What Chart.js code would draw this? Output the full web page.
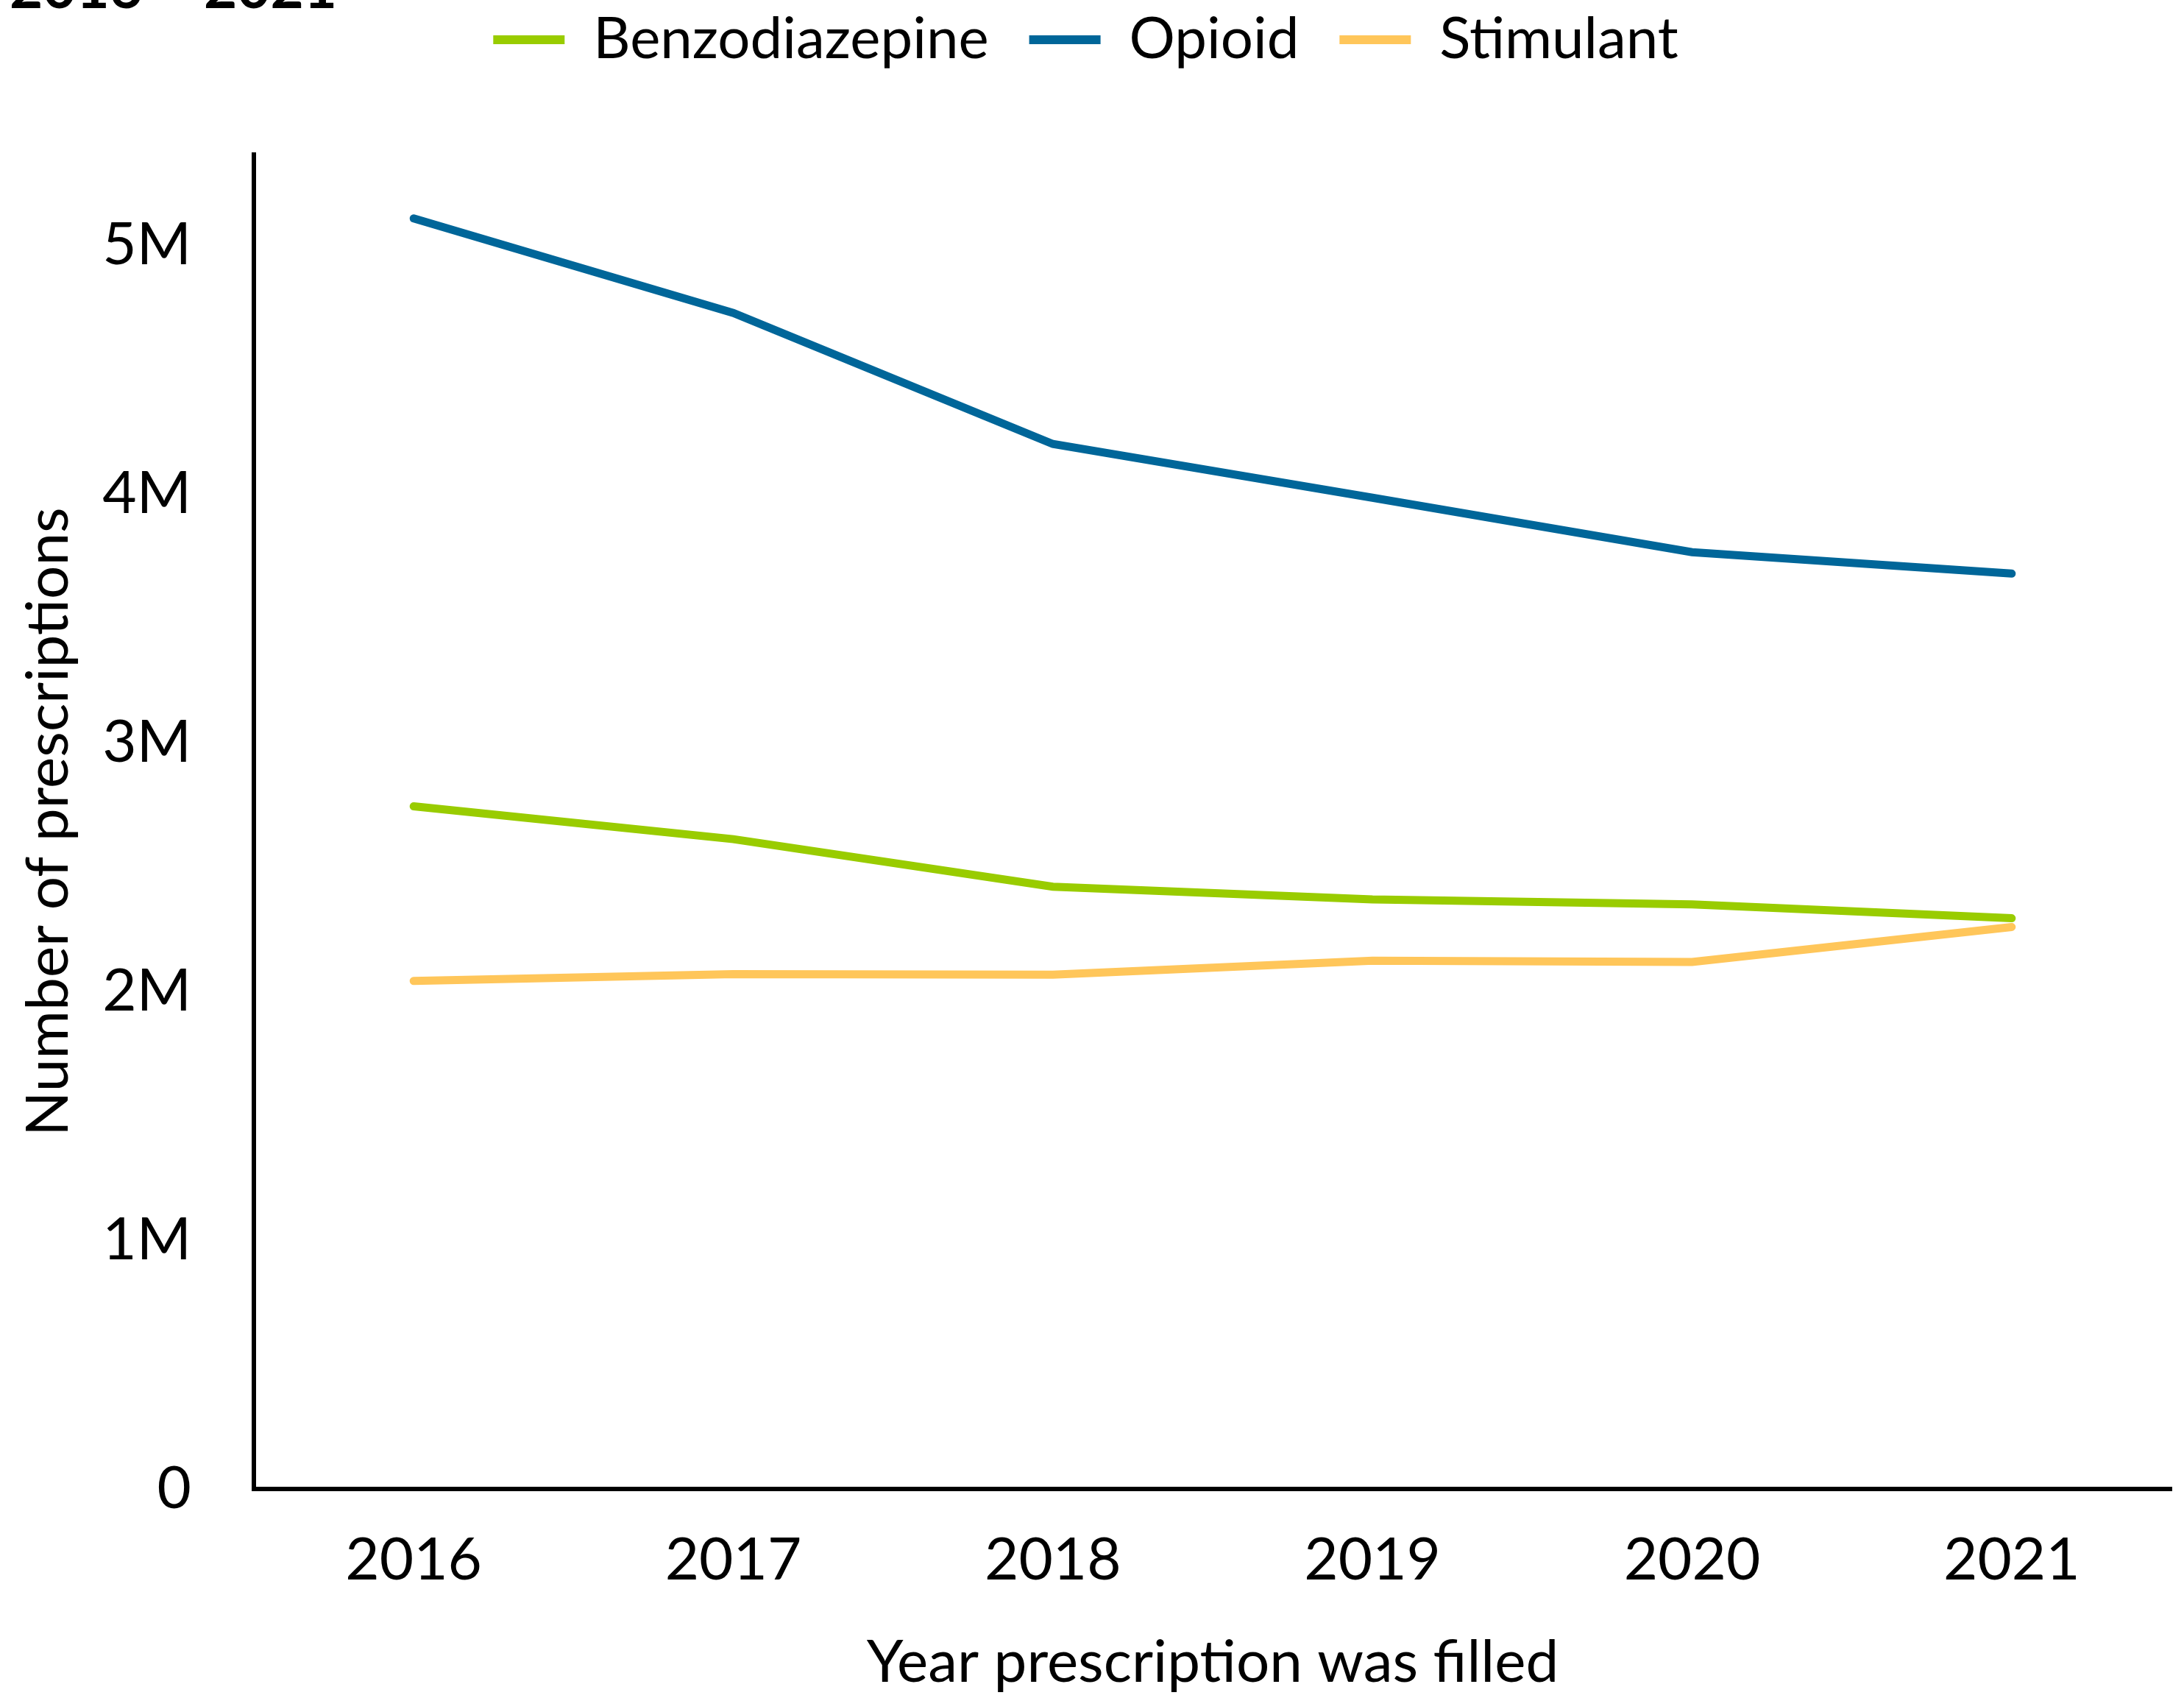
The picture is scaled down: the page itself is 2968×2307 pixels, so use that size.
<!DOCTYPE html>
<html>
<head>
<meta charset="utf-8">
<script src="https://cdn.jsdelivr.net/npm/chart.js@4/dist/chart.umd.min.js"></script>
<style>
    html, body { margin: 0; padding: 0; background: #fff; overflow: hidden; }
    #wrap { position: relative; width: 2968px; height: 2307px; }
    #chart { position: absolute; left: 0; top: 0; }
    #title { position: absolute; left: 13px; top: -58px; z-index: 2; font: bold 78px Lato; line-height: 78px; color: #000; white-space: nowrap; }
</style>
</head>
<body>
<div id="wrap">
    <div id="title">2016 – 2021</div>
    <canvas id="chart" width="2968" height="2307"></canvas>
</div>
<script>
// values (prescriptions)
const years = ['2016', '2017', '2018', '2019', '2020', '2021'];
const benzodiazepine = [2745000, 2613000, 2422000, 2371000, 2351000, 2295000];
const opioid = [5109000, 4729000, 4202000, 3986000, 3767000, 3681000];
const stimulant = [2043000, 2070000, 2068000, 2124000, 2119000, 2260000];
const yTicks = [0, 1000000, 2000000, 3000000, 4000000, 5000000];
const yMax = 5366000;

Chart.defaults.font.family = 'Lato';
Chart.defaults.color = '#000';

function lineSet(label, data, color) {
    return {
        label: label,
        data: data,
        borderColor: color,
        backgroundColor: color,
        borderWidth: 11,
        borderCapStyle: 'round',
        pointRadius: 0,
        tension: 0
    };
}

// legend.update() calls fit() directly, so patch fit to reserve room above the plot
const legendSpace = {
    id: 'legendSpace',
    beforeInit(chart) {
        const fit = chart.legend.fit;
        chart.legend.fit = function () {
            fit.call(this);
            this.height = 250;
        };
    }
};

new Chart(document.getElementById('chart'), {
    type: 'line',
    data: {
        labels: years,
        datasets: [
            lineSet('Benzodiazepine', benzodiazepine, '#99cc00'),
            lineSet('Opioid', opioid, '#006699'),
            lineSet('Stimulant', stimulant, '#ffc65a')
        ]
    },
    options: {
        responsive: false,
        animation: false,
        layout: { padding: { top: -40, right: 17, bottom: 0, left: 0 } },
        plugins: {
            legend: {
                position: 'top',
                labels: {
                    boxWidth: 97,
                    boxHeight: 12,
                    padding: 55,
                    font: { size: 78 },
                    // flat swatches, no outline from the line width
                    generateLabels(chart) {
                        return Chart.defaults.plugins.legend.labels.generateLabels(chart)
                            .map(item => Object.assign(item, { lineWidth: 0 }));
                    }
                }
            },
            tooltip: { enabled: false }
        },
        scales: {
            x: {
                offset: true,
                grid: { display: false, drawTicks: false },
                border: { display: true, color: '#000', width: 6 },
                ticks: { padding: 49, font: { size: 80 } },
                title: {
                    display: true,
                    text: 'Year prescription was filled',
                    font: { size: 80 },
                    padding: { top: 0, bottom: 0 }
                },
                afterFit(scale) { scale.height = 284; }
            },
            y: {
                min: 0,
                max: yMax,
                grid: { display: false, drawTicks: false },
                border: { display: true, color: '#000', width: 6 },
                ticks: {
                    padding: 85,
                    font: { size: 80 },
                    callback: v => v === 0 ? '0' : (v / 1000000) + 'M'
                },
                afterBuildTicks(scale) {
                    scale.ticks = yTicks.map(v => ({ value: v }));
                },
                title: {
                    display: true,
                    text: 'Number of prescriptions',
                    font: { size: 80 },
                    padding: { top: 18, bottom: 0 }
                },
                afterFit(scale) { scale.width = 345; }
            }
        }
    },
    plugins: [legendSpace]
});
</script>
</body>
</html>
